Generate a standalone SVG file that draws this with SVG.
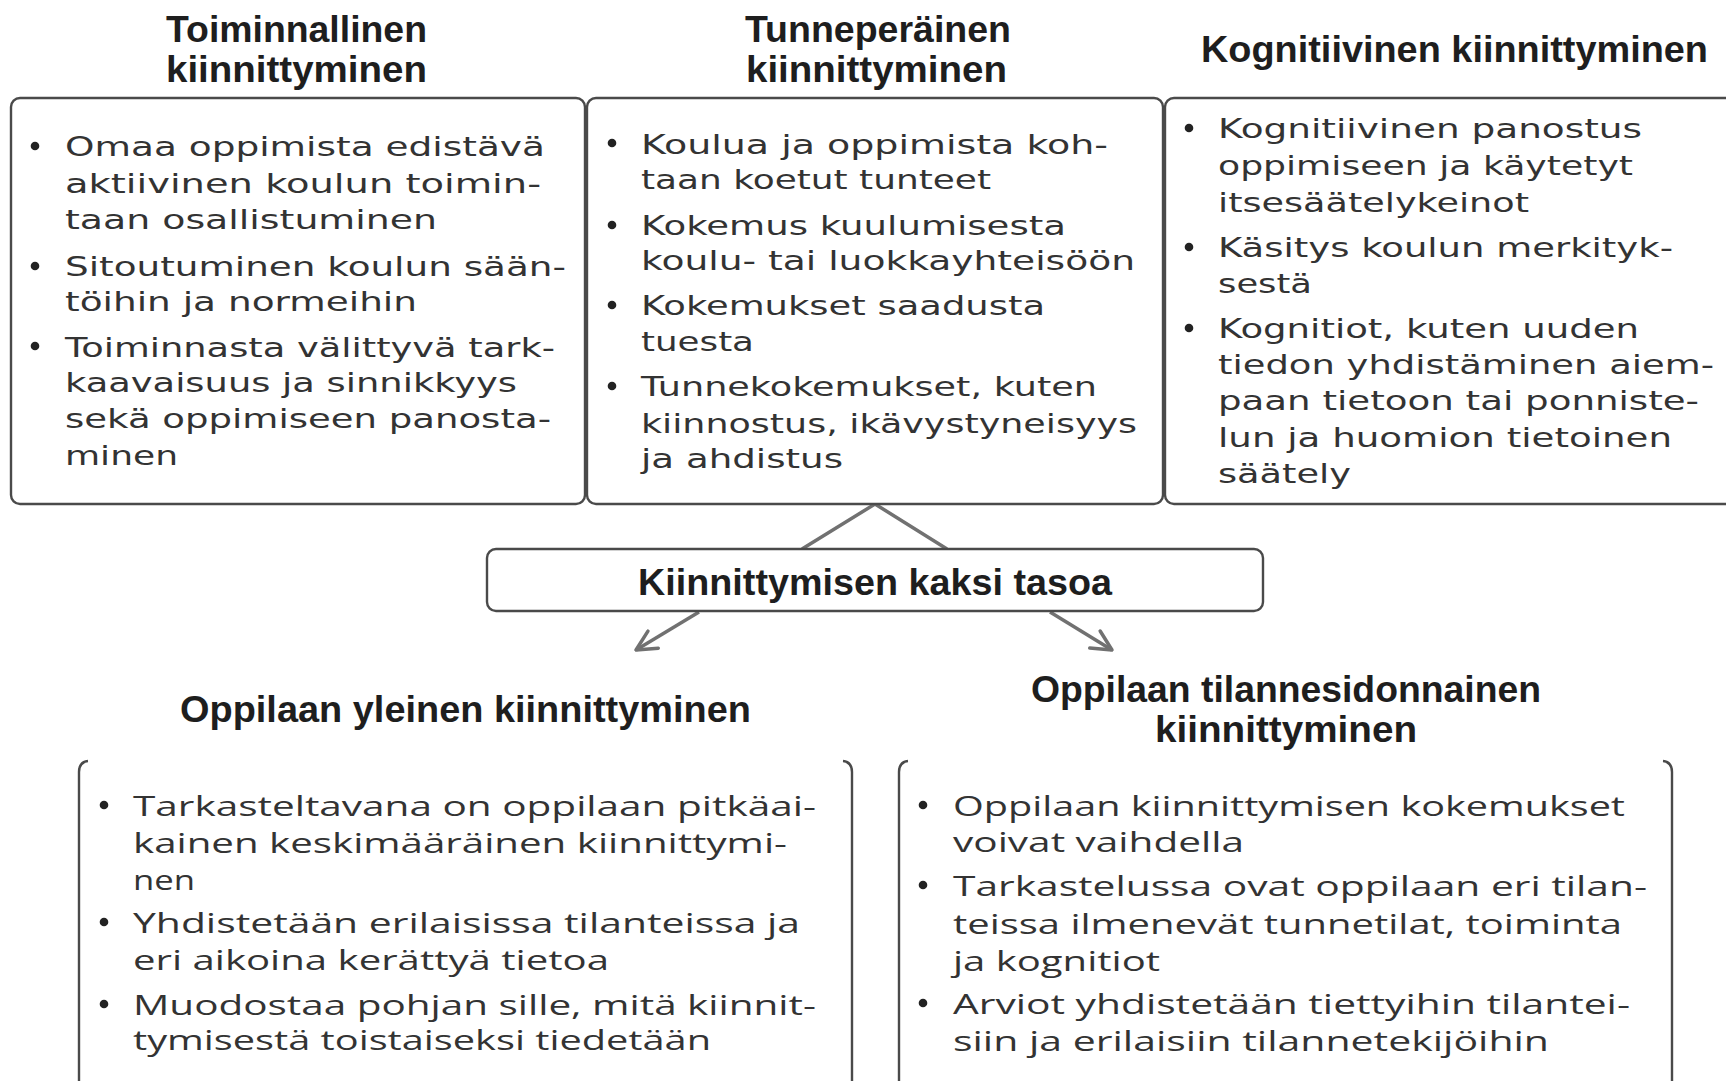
<svg xmlns="http://www.w3.org/2000/svg" width="1726" height="1081" viewBox="0 0 1726 1081">
<defs>
<style>
.box{fill:#fff;stroke:#4a4a4a;stroke-width:2.4}
.brk{fill:none;stroke:#4a4a4a;stroke-width:2.4}
.ttl{font-family:"Liberation Sans",Arial,sans-serif;font-weight:700;font-size:37px;fill:#1e1e1e}
.tb{font-family:"DejaVu Sans",sans-serif;font-size:26.5px;fill:#333}
.bb{font-family:"Open Sans","Liberation Sans",sans-serif;font-size:28px;fill:#333}
.dot{fill:#222}
.con{fill:none;stroke:#717171;stroke-width:3.5}
</style>
<marker id="ah" viewBox="0 0 24 24" refX="22" refY="12" markerWidth="24" markerHeight="24" markerUnits="userSpaceOnUse" orient="auto">
<path d="M2,2 L22,12 L2,22" fill="none" stroke="#717171" stroke-width="3.5" stroke-linecap="round" stroke-linejoin="round"/>
</marker>
</defs>
<rect width="1726" height="1081" fill="#fff"/>

<g id="connectors">
<path class="con" d="M802,549 L875,504 L947,549"/>
<path class="con" d="M699,612 L636,650" marker-end="url(#ah)"/>
<path class="con" d="M1050,612 L1112,650" marker-end="url(#ah)"/>
</g>

<g id="toiminnallinen">
<text class="ttl" x="166" y="42" textLength="261" lengthAdjust="spacingAndGlyphs">Toiminnallinen</text>
<text class="ttl" x="166" y="82" textLength="261" lengthAdjust="spacingAndGlyphs">kiinnittyminen</text>
<rect class="box" x="11" y="98" width="574" height="406" rx="9"/>
<circle class="dot" cx="35" cy="146" r="4.3"/>
<circle class="dot" cx="35" cy="266" r="4.3"/>
<circle class="dot" cx="35" cy="346" r="4.3"/>
<text class="tb" x="65" y="156" textLength="480" lengthAdjust="spacingAndGlyphs">Omaa oppimista edistävä</text>
<text class="tb" x="65" y="193" textLength="476" lengthAdjust="spacingAndGlyphs">aktiivinen koulun toimin-</text>
<text class="tb" x="65" y="229" textLength="372" lengthAdjust="spacingAndGlyphs">taan osallistuminen</text>
<text class="tb" x="65" y="276" textLength="501" lengthAdjust="spacingAndGlyphs">Sitoutuminen koulun sään-</text>
<text class="tb" x="65" y="311" textLength="352" lengthAdjust="spacingAndGlyphs">töihin ja normeihin</text>
<text class="tb" x="65" y="357" textLength="490" lengthAdjust="spacingAndGlyphs">Toiminnasta välittyvä tark-</text>
<text class="tb" x="65" y="392" textLength="452" lengthAdjust="spacingAndGlyphs">kaavaisuus ja sinnikkyys</text>
<text class="tb" x="65" y="428" textLength="486" lengthAdjust="spacingAndGlyphs">sekä oppimiseen panosta-</text>
<text class="tb" x="65" y="465" textLength="113" lengthAdjust="spacingAndGlyphs">minen</text>
</g>

<g id="tunneperainen">
<text class="ttl" x="745" y="42" textLength="266" lengthAdjust="spacingAndGlyphs">Tunneperäinen</text>
<text class="ttl" x="746" y="82" textLength="261" lengthAdjust="spacingAndGlyphs">kiinnittyminen</text>
<rect class="box" x="587" y="98" width="576" height="406" rx="9"/>
<circle class="dot" cx="612" cy="143" r="4.3"/>
<circle class="dot" cx="612" cy="225" r="4.3"/>
<circle class="dot" cx="612" cy="305" r="4.3"/>
<circle class="dot" cx="612" cy="386" r="4.3"/>
<text class="tb" x="641" y="154" textLength="467" lengthAdjust="spacingAndGlyphs">Koulua ja oppimista koh-</text>
<text class="tb" x="641" y="189" textLength="350" lengthAdjust="spacingAndGlyphs">taan koetut tunteet</text>
<text class="tb" x="641" y="235" textLength="425" lengthAdjust="spacingAndGlyphs">Kokemus kuulumisesta</text>
<text class="tb" x="641" y="270" textLength="494" lengthAdjust="spacingAndGlyphs">koulu- tai luokkayhteisöön</text>
<text class="tb" x="641" y="315" textLength="404" lengthAdjust="spacingAndGlyphs">Kokemukset saadusta</text>
<text class="tb" x="641" y="351" textLength="113" lengthAdjust="spacingAndGlyphs">tuesta</text>
<text class="tb" x="641" y="396" textLength="456" lengthAdjust="spacingAndGlyphs">Tunnekokemukset, kuten</text>
<text class="tb" x="641" y="433" textLength="496" lengthAdjust="spacingAndGlyphs">kiinnostus, ikävystyneisyys</text>
<text class="tb" x="641" y="468" textLength="202" lengthAdjust="spacingAndGlyphs">ja ahdistus</text>
</g>

<g id="kognitiivinen">
<text class="ttl" x="1201" y="62" textLength="507" lengthAdjust="spacingAndGlyphs">Kognitiivinen kiinnittyminen</text>
<rect class="box" x="1165" y="98" width="580" height="406" rx="9"/>
<circle class="dot" cx="1189" cy="128" r="4.3"/>
<circle class="dot" cx="1189" cy="247" r="4.3"/>
<circle class="dot" cx="1189" cy="328" r="4.3"/>
<text class="tb" x="1218" y="138" textLength="424" lengthAdjust="spacingAndGlyphs">Kognitiivinen panostus</text>
<text class="tb" x="1218" y="175" textLength="415" lengthAdjust="spacingAndGlyphs">oppimiseen ja käytetyt</text>
<text class="tb" x="1218" y="212" textLength="311" lengthAdjust="spacingAndGlyphs">itsesäätelykeinot</text>
<text class="tb" x="1218" y="257" textLength="455" lengthAdjust="spacingAndGlyphs">Käsitys koulun merkityk-</text>
<text class="tb" x="1218" y="293" textLength="94" lengthAdjust="spacingAndGlyphs">sestä</text>
<text class="tb" x="1218" y="338" textLength="421" lengthAdjust="spacingAndGlyphs">Kognitiot, kuten uuden</text>
<text class="tb" x="1218" y="374" textLength="496" lengthAdjust="spacingAndGlyphs">tiedon yhdistäminen aiem-</text>
<text class="tb" x="1218" y="410" textLength="481" lengthAdjust="spacingAndGlyphs">paan tietoon tai ponniste-</text>
<text class="tb" x="1218" y="447" textLength="454" lengthAdjust="spacingAndGlyphs">lun ja huomion tietoinen</text>
<text class="tb" x="1218" y="483" textLength="133" lengthAdjust="spacingAndGlyphs">säätely</text>
</g>

<g id="kaksi-tasoa">
<rect class="box" x="487" y="549" width="776" height="62" rx="9"/>
<text class="ttl" x="638" y="595" font-size="38" textLength="474" lengthAdjust="spacingAndGlyphs">Kiinnittymisen kaksi tasoa</text>
</g>

<g id="yleinen">
<text class="ttl" x="180" y="722" textLength="571" lengthAdjust="spacingAndGlyphs">Oppilaan yleinen kiinnittyminen</text>
<path class="brk" d="M88,761 Q79,762 79,772 V1085"/>
<path class="brk" d="M843,761 Q852,762 852,772 V1085"/>
<circle class="dot" cx="104" cy="805" r="4.3"/>
<circle class="dot" cx="104" cy="922" r="4.3"/>
<circle class="dot" cx="104" cy="1004" r="4.3"/>
<text class="bb" x="133" y="816" textLength="683" lengthAdjust="spacingAndGlyphs">Tarkasteltavana on oppilaan pitkäai-</text>
<text class="bb" x="133" y="853" textLength="654" lengthAdjust="spacingAndGlyphs">kainen keskimääräinen kiinnittymi-</text>
<text class="bb" x="133" y="890" textLength="62" lengthAdjust="spacingAndGlyphs">nen</text>
<text class="bb" x="133" y="933" textLength="667" lengthAdjust="spacingAndGlyphs">Yhdistetään erilaisissa tilanteissa ja</text>
<text class="bb" x="133" y="970" textLength="476" lengthAdjust="spacingAndGlyphs">eri aikoina kerättyä tietoa</text>
<text class="bb" x="133" y="1015" textLength="683" lengthAdjust="spacingAndGlyphs">Muodostaa pohjan sille, mitä kiinnit-</text>
<text class="bb" x="133" y="1050" textLength="578" lengthAdjust="spacingAndGlyphs">tymisestä toistaiseksi tiedetään</text>
</g>

<g id="tilannesidonnainen">
<text class="ttl" x="1031" y="702" textLength="510" lengthAdjust="spacingAndGlyphs">Oppilaan tilannesidonnainen</text>
<text class="ttl" x="1155" y="742" textLength="262" lengthAdjust="spacingAndGlyphs">kiinnittyminen</text>
<path class="brk" d="M908,761 Q899,762 899,772 V1085"/>
<path class="brk" d="M1663,761 Q1672,762 1672,772 V1085"/>
<circle class="dot" cx="923" cy="805" r="4.3"/>
<circle class="dot" cx="923" cy="885" r="4.3"/>
<circle class="dot" cx="923" cy="1003" r="4.3"/>
<text class="bb" x="953" y="816" textLength="672" lengthAdjust="spacingAndGlyphs">Oppilaan kiinnittymisen kokemukset</text>
<text class="bb" x="953" y="852" textLength="291" lengthAdjust="spacingAndGlyphs">voivat vaihdella</text>
<text class="bb" x="953" y="896" textLength="694" lengthAdjust="spacingAndGlyphs">Tarkastelussa ovat oppilaan eri tilan-</text>
<text class="bb" x="953" y="934" textLength="669" lengthAdjust="spacingAndGlyphs">teissa ilmenevät tunnetilat, toiminta</text>
<text class="bb" x="953" y="971" textLength="207" lengthAdjust="spacingAndGlyphs">ja kognitiot</text>
<text class="bb" x="953" y="1014" textLength="677" lengthAdjust="spacingAndGlyphs">Arviot yhdistetään tiettyihin tilantei-</text>
<text class="bb" x="953" y="1051" textLength="596" lengthAdjust="spacingAndGlyphs">siin ja erilaisiin tilannetekijöihin</text>
</g>
</svg>
